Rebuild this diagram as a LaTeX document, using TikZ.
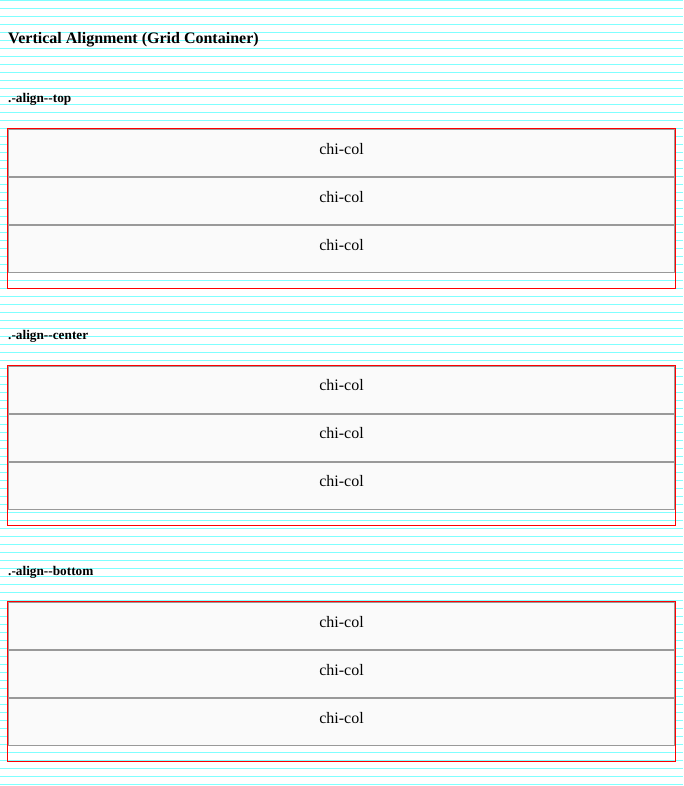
\documentclass[tikz,border=0pt]{standalone}
\usepackage{fontspec}
\setmainfont{Liberation Serif}
\usetikzlibrary{positioning}
\definecolor{gridcyan}{RGB}{128,255,255}
\definecolor{colfill}{RGB}{250,250,250}
\definecolor{colline}{RGB}{153,153,153}

\begin{document}
\begin{tikzpicture}[x=1pt, y=-1pt, node distance=0pt]
\tikzstyle{box}=[draw=red, line width=1pt, minimum width=668pt, minimum height=160pt, inner sep=0pt, outer sep=0pt]
\tikzstyle{col}=[draw=colline, fill=colfill, line width=1pt, minimum width=666pt, minimum height=47pt, inner sep=0pt, outer sep=0pt, font=\fontsize{16}{24}\selectfont, text height=11.5pt, text depth=8.7pt]
\tikzstyle{lbl}=[anchor=base west, inner sep=0pt, font=\bfseries\fontsize{13.28}{16}\selectfont]
\useasboundingbox (0,0) rectangle (683,786);
\foreach \k in {0,...,98}
  \draw[gridcyan, line width=1pt] (0,8*\k+0.5) -- (683,8*\k+0.5);

\node[lbl, font=\bfseries\fontsize{16}{20}\selectfont] (title) at (8,43.5) {Vertical Alignment (Grid Container)};

\node[lbl] (lbltop) at (8,102.7) {.-align-{}-top};
\node[box] (gtop) at (341.5,208.5) {};
\node[col, below=1pt of gtop.north] (gtop1) {chi-col};
\node[col, below=1pt of gtop1] (gtop2) {chi-col};
\node[col, below=1pt of gtop2] (gtop3) {chi-col};

\node[lbl] (lblcenter) at (8,339.2) {.-align-{}-center};
\node[box] (gcenter) at (341.5,445) {};
\node[col, below=1pt of gcenter.north] (gcenter1) {chi-col};
\node[col, below=1pt of gcenter1] (gcenter2) {chi-col};
\node[col, below=1pt of gcenter2] (gcenter3) {chi-col};

\node[lbl] (lblbottom) at (8,575.7) {.-align-{}-bottom};
\node[box] (gbottom) at (341.5,681.5) {};
\node[col, below=1pt of gbottom.north] (gbottom1) {chi-col};
\node[col, below=1pt of gbottom1] (gbottom2) {chi-col};
\node[col, below=1pt of gbottom2] (gbottom3) {chi-col};
\end{tikzpicture}
\end{document}
